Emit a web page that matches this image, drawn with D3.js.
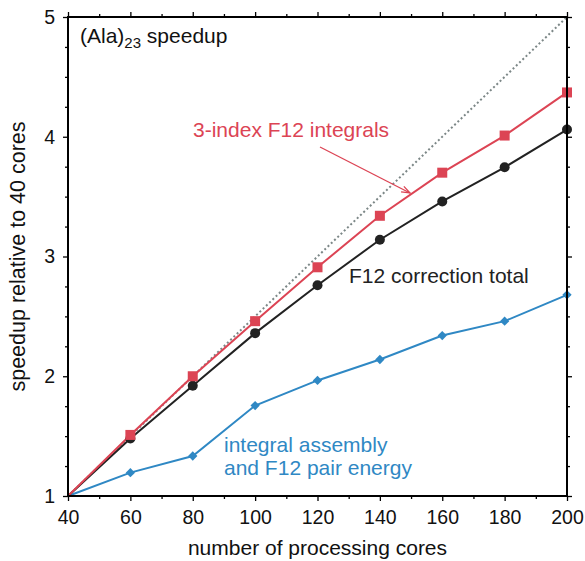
<!DOCTYPE html>
<html>
<head>
<meta charset="utf-8">
<script src="https://cdn.jsdelivr.net/npm/d3@7"></script>
<style>
  html, body { margin: 0; padding: 0; background: #fff; }
  svg { display: block; font-family: "Liberation Sans", Arial, Helvetica, sans-serif; }
</style>
</head>
<body>
<svg id="chart" width="585" height="561"></svg>
<script>
// Parallel speedup of the F12 correction for (Ala)23, relative to 40 cores
const cores = [40, 60, 80, 100, 120, 140, 160, 180, 200];
const integrals3idx = [1, 1.51, 2.0, 2.46, 2.91, 3.34, 3.70, 4.01, 4.37];
const f12Total = [1, 1.48, 1.92, 2.36, 2.76, 3.14, 3.46, 3.745, 4.06];
const pairEnergy = [1, 1.195, 1.334, 1.755, 1.965, 2.14, 2.34, 2.46, 2.68];
const idealCores = [40, 200];
const idealSpeedup = [1, 5];
const xTicks = [40, 60, 80, 100, 120, 140, 160, 180, 200];
const yTicks = [1, 2, 3, 4, 5];

const svg = d3.select("#chart");
const mLeft = 68, mRight = 567, mTop = 17, mBottom = 496;

const x = d3.scaleLinear().domain([40, 200]).range([mLeft, mRight]);
const y = d3.scaleLinear().domain([1, 5]).range([mBottom, mTop]);

const red = "#dc4454", black = "#222222", blue = "#2f88c4", grey = "#7c8787";
const labelSize = 21;

// Axes: major ticks outside, minor ticks shorter
const xMinor = d3.range(50, 200, 20);
const yMinor = d3.range(1, 5.001, 0.25).filter(v => Math.abs(v - Math.round(v)) > 1e-6);

function styleAxis(g) {
  g.select(".domain").remove();
  g.selectAll("line").attr("stroke", "#000").attr("stroke-width", 1.3);
  g.selectAll("text").attr("font-size", 19.5).attr("fill", "#111");
}

svg.append("g").attr("transform", `translate(0,${mBottom})`)
  .call(d3.axisBottom(x).tickValues(xTicks).tickFormat(d3.format("d")).tickSize(5).tickPadding(9))
  .call(styleAxis);
svg.append("g").attr("transform", `translate(0,${mBottom})`)
  .call(d3.axisBottom(x).tickValues(xMinor).tickFormat("").tickSize(3))
  .call(styleAxis);
svg.append("g").attr("transform", `translate(0,${mTop})`)
  .call(d3.axisTop(x).tickValues(xTicks).tickFormat("").tickSize(5))
  .call(styleAxis);
svg.append("g").attr("transform", `translate(0,${mTop})`)
  .call(d3.axisTop(x).tickValues(xMinor).tickFormat("").tickSize(3))
  .call(styleAxis);

svg.append("g").attr("transform", `translate(${mLeft},0)`)
  .call(d3.axisLeft(y).tickValues(yTicks).tickFormat(d3.format("d")).tickSize(5).tickPadding(8))
  .call(styleAxis);
svg.append("g").attr("transform", `translate(${mLeft},0)`)
  .call(d3.axisLeft(y).tickValues(yMinor).tickFormat("").tickSize(3))
  .call(styleAxis);
svg.append("g").attr("transform", `translate(${mRight},0)`)
  .call(d3.axisRight(y).tickValues(yTicks).tickFormat("").tickSize(5))
  .call(styleAxis);
svg.append("g").attr("transform", `translate(${mRight},0)`)
  .call(d3.axisRight(y).tickValues(yMinor).tickFormat("").tickSize(3))
  .call(styleAxis);

// Ideal linear speedup
svg.append("line")
  .attr("x1", x(idealCores[0])).attr("y1", y(idealSpeedup[0]))
  .attr("x2", x(idealCores[1])).attr("y2", y(idealSpeedup[1]))
  .attr("stroke", grey).attr("stroke-width", 2).attr("stroke-dasharray", "2,2.5");

const line = d3.line().x(d => x(d[0])).y(d => y(d[1]));
function series(vals, color) {
  const pts = cores.map((c, i) => [c, vals[i]]);
  svg.append("path").datum(pts).attr("d", line)
    .attr("fill", "none").attr("stroke", color).attr("stroke-width", 2);
  return pts.slice(1);
}

const bluePts = series(pairEnergy, blue);
const blackPts = series(f12Total, black);
const redPts = series(integrals3idx, red);

svg.append("g").selectAll("path").data(bluePts).join("path")
  .attr("d", d3.symbol(d3.symbolDiamond2, 55)())
  .attr("transform", d => `translate(${x(d[0])},${y(d[1])})`)
  .attr("fill", blue);
svg.append("g").selectAll("circle").data(blackPts).join("circle")
  .attr("cx", d => x(d[0])).attr("cy", d => y(d[1])).attr("r", 5)
  .attr("fill", black);
svg.append("g").selectAll("rect").data(redPts).join("rect")
  .attr("x", d => x(d[0]) - 5).attr("y", d => y(d[1]) - 5)
  .attr("width", 10).attr("height", 10).attr("fill", red);

// Frame
svg.append("rect").attr("x", mLeft).attr("y", mTop)
  .attr("width", mRight - mLeft).attr("height", mBottom - mTop)
  .attr("fill", "none").attr("stroke", "#000").attr("stroke-width", 2);

// Labels
const title = svg.append("text").attr("x", 80).attr("y", 43)
  .attr("font-size", labelSize).attr("fill", "#111");
title.append("tspan").text("(Ala)");
title.append("tspan").attr("font-size", 15).attr("dy", 5).text("23");
title.append("tspan").attr("dy", -5).text(" speedup");

svg.append("text").attr("x", 193).attr("y", 137)
  .attr("font-size", labelSize).attr("fill", red).text("3-index F12 integrals");

// Arrow pointing at the 3-index integrals curve
const ax1 = 320, ay1 = 147, ax2 = 410, ay2 = 193;
svg.append("line").attr("x1", ax1).attr("y1", ay1).attr("x2", ax2).attr("y2", ay2)
  .attr("stroke", red).attr("stroke-width", 1.3);
const ang = Math.atan2(ay2 - ay1, ax2 - ax1);
const headLen = 9, spread = 0.35;
svg.append("path")
  .attr("d", `M${ax2 - headLen * Math.cos(ang - spread)},${ay2 - headLen * Math.sin(ang - spread)} L${ax2},${ay2} L${ax2 - headLen * Math.cos(ang + spread)},${ay2 - headLen * Math.sin(ang + spread)}`)
  .attr("fill", "none").attr("stroke", red).attr("stroke-width", 1.3);

svg.append("text").attr("x", 349).attr("y", 283)
  .attr("font-size", labelSize).attr("fill", "#222").text("F12 correction total");

svg.append("text").attr("x", 224).attr("y", 452)
  .attr("font-size", labelSize).attr("fill", blue).text("integral assembly");
svg.append("text").attr("x", 224).attr("y", 475)
  .attr("font-size", labelSize).attr("fill", blue).text("and F12 pair energy");

svg.append("text").attr("x", (mLeft + mRight) / 2).attr("y", 555)
  .attr("text-anchor", "middle").attr("font-size", labelSize).attr("fill", "#111")
  .text("number of processing cores");
svg.append("text")
  .attr("transform", `translate(25,${(mTop + mBottom) / 2}) rotate(-90)`)
  .attr("text-anchor", "middle").attr("font-size", 21.5).attr("fill", "#111")
  .text("speedup relative to 40 cores");
</script>
</body>
</html>
